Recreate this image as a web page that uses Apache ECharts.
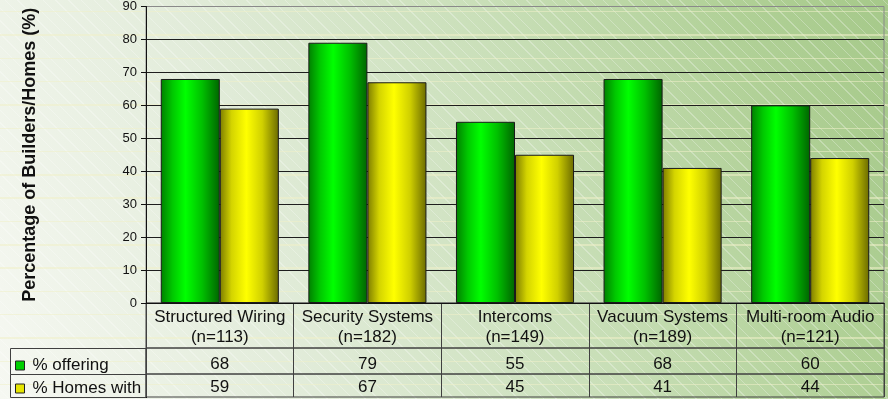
<!DOCTYPE html>
<html>
<head>
<meta charset="utf-8">
<script src="https://cdn.jsdelivr.net/npm/echarts@6/dist/echarts.min.js"></script>
<style>
  html, body { margin: 0; padding: 0; }
  #chart {
    width: 888px; height: 399px;
    background:
      repeating-linear-gradient(180deg, rgba(0,0,0,0) 0px, rgba(0,0,0,0) 11px, rgba(240,240,200,0.55) 11px, rgba(240,240,200,0.55) 12.5px, rgba(0,0,0,0) 12.5px, rgba(0,0,0,0) 23.3px),
      repeating-linear-gradient(45deg, rgba(255,255,255,0) 0px, rgba(255,255,255,0) 6px, rgba(255,255,255,0.28) 6px, rgba(255,255,255,0.28) 7px, rgba(255,255,255,0) 7px, rgba(255,255,255,0) 9px),
      linear-gradient(72deg, #f6f8f2 0%, #e2ecda 30%, #c9dfb8 60%, #b0d096 85%, #a6c98a 100%);
  }
</style>
</head>
<body>
<div id="chart"></div>
<script>
  // Product categories and sample sizes
  const categories = ['Structured Wiring', 'Security Systems', 'Intercoms', 'Vacuum Systems', 'Multi-room Audio'];
  const sampleSizes = [113, 182, 149, 189, 121];

  // Series values (%)
  const offering = [68, 79, 55, 68, 60];
  const homesWith = [59, 67, 45, 41, 44];

  const seriesNames = ['% offering', '% Homes with'];
  const yTicks = { min: 0, max: 90, interval: 10 };

  const FONT = 'Liberation Sans, Arial, sans-serif';
  const LINE = '#404040';

  const greenFill = new echarts.graphic.LinearGradient(0, 0, 1, 0, [
    { offset: 0, color: '#007f00' },
    { offset: 0.2, color: '#00c800' },
    { offset: 0.42, color: '#00ff00' },
    { offset: 0.7, color: '#00c000' },
    { offset: 1, color: '#006400' }
  ]);
  const yellowFill = new echarts.graphic.LinearGradient(0, 0, 1, 0, [
    { offset: 0, color: '#7c7c00' },
    { offset: 0.2, color: '#d4d400' },
    { offset: 0.45, color: '#ffff00' },
    { offset: 0.72, color: '#d0d000' },
    { offset: 1, color: '#6a6a00' }
  ]);

  const chart = echarts.init(document.getElementById('chart'), null, { renderer: 'canvas' });

  // Category axis for one row of the data table
  function rowAxis(gridIndex, values, margin) {
    return {
      type: 'category',
      gridIndex: gridIndex,
      data: categories,
      position: 'top',
      axisLine: { show: false },
      axisTick: { show: false },
      splitLine: { show: true, interval: 0, lineStyle: { color: LINE, width: 1 } },
      axisLabel: {
        show: values !== null,
        inside: true,
        interval: 0,
        margin: margin,
        fontFamily: FONT,
        fontSize: 17,
        color: '#111',
        formatter: function (v, i) { return values ? String(values[i]) : ''; }
      }
    };
  }

  function rowYAxis(gridIndex) {
    return { type: 'value', gridIndex: gridIndex, show: false, min: 0, max: 1 };
  }

  // One legend key per table row
  function rowLegend(name, color, top) {
    return {
      orient: 'vertical',
      left: 15,
      top: top,
      padding: 0,
      itemWidth: 9,
      itemHeight: 9,
      icon: 'rect',
      selectedMode: false,
      textStyle: { fontFamily: FONT, fontSize: 17, color: '#111', padding: [0, 0, 0, 3] },
      data: [{ name: name, itemStyle: { color: color, borderColor: '#222', borderWidth: 1 } }]
    };
  }

  const option = {
    animation: false,
    backgroundColor: 'transparent',
    grid: [
      { left: 146, right: 4, top: 4, height: 299, show: true, borderColor: '#8a8a8a', borderWidth: 1, backgroundColor: 'transparent' },
      { left: 146, right: 4, top: 303, height: 45, show: true, borderColor: LINE, borderWidth: 1, backgroundColor: 'transparent' },
      { left: 146, right: 4, top: 348, height: 26, show: true, borderColor: LINE, borderWidth: 1, backgroundColor: 'transparent' },
      { left: 146, right: 4, top: 374, height: 23, show: true, borderColor: LINE, borderWidth: 1, backgroundColor: 'transparent' }
    ],
    legend: [
      rowLegend(seriesNames[0], '#00d000', 357),
      rowLegend(seriesNames[1], '#e6e600', 380)
    ],
    xAxis: [
      {
        type: 'category',
        gridIndex: 0,
        data: categories,
        axisLine: { show: true, lineStyle: { color: '#111', width: 1 } },
        axisTick: { show: false },
        splitLine: { show: false },
        axisLabel: {
          interval: 0,
          margin: 4,
          fontFamily: FONT,
          fontSize: 17,
          lineHeight: 20,
          color: '#111',
          formatter: function (v, i) { return v + '\n(n=' + sampleSizes[i] + ')'; }
        }
      },
      rowAxis(1, null, 0),
      rowAxis(2, offering, 8),
      rowAxis(3, homesWith, 5)
    ],
    yAxis: [
      {
        type: 'value',
        gridIndex: 0,
        min: yTicks.min,
        max: yTicks.max,
        interval: yTicks.interval,
        name: 'Percentage of Builders/Homes (%)',
        nameLocation: 'middle',
        nameGap: 107,
        nameTextStyle: { fontFamily: FONT, fontSize: 18, fontWeight: 'bold', color: '#111' },
        axisLine: { show: true, lineStyle: { color: '#111', width: 1 } },
        axisTick: { show: true, length: 5, lineStyle: { color: '#111' } },
        splitLine: { show: true, showMaxLine: false, showMinLine: false, lineStyle: { color: '#1e1e1e', width: 1 } },
        axisLabel: { margin: 9, fontFamily: FONT, fontSize: 13, color: '#111' }
      },
      rowYAxis(1), rowYAxis(2), rowYAxis(3)
    ],
    graphic: [
      { type: 'rect', shape: { x: 10.5, y: 348.5, width: 135.5, height: 26 }, style: { fill: 'none', stroke: LINE, lineWidth: 1 }, silent: true },
      { type: 'rect', shape: { x: 10.5, y: 374.5, width: 135.5, height: 23 }, style: { fill: 'none', stroke: LINE, lineWidth: 1 }, silent: true },
      { type: 'line', shape: { x1: 146.5, y1: 303, x2: 146.5, y2: 398 }, style: { stroke: '#111', lineWidth: 1 }, silent: true }
    ],
    series: [
      {
        name: seriesNames[0],
        type: 'bar',
        xAxisIndex: 0,
        yAxisIndex: 0,
        data: offering,
        barGap: '0%',
        barCategoryGap: '20%',
        itemStyle: { color: greenFill, borderColor: '#1a1a1a', borderWidth: 1 }
      },
      {
        name: seriesNames[1],
        type: 'bar',
        xAxisIndex: 0,
        yAxisIndex: 0,
        data: homesWith,
        barGap: '0%',
        barCategoryGap: '20%',
        itemStyle: { color: yellowFill, borderColor: '#1a1a1a', borderWidth: 1 }
      }
    ]
  };

  chart.setOption(option);
</script>
</body>
</html>
